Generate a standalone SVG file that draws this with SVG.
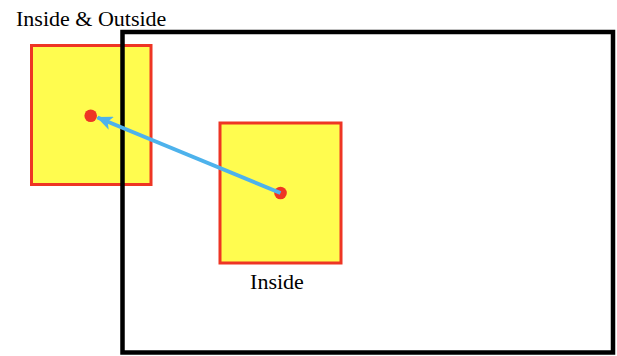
<svg xmlns="http://www.w3.org/2000/svg" width="617" height="356" viewBox="0 0 617 356">
<style>
.box{fill:#FFFC4F;stroke:#EE3524;stroke-width:3}
.dot{fill:#EE3524}
.lbl{font-family:"Liberation Serif",serif;font-size:22px;fill:#000}
</style>
<defs>
<marker id="ah" markerUnits="userSpaceOnUse" markerWidth="16" markerHeight="14" refX="15" refY="7" orient="auto">
<path d="M0,0 L16,7 L0,14 L4,7 Z" fill="#4DB2EC"/>
</marker>
</defs>
<rect width="617" height="356" fill="#fff"/>
<g id="left-box"><rect class="box" x="31.5" y="45.5" width="119.5" height="139"/><text class="lbl" x="16" y="26">Inside &amp; Outside</text></g>
<g id="outer"><rect x="122.5" y="32" width="490.5" height="320.5" fill="none" stroke="#000" stroke-width="4.5"/></g>
<g id="left-dot"><circle class="dot" cx="90.7" cy="115.7" r="6.3"/></g>
<g id="right-box"><rect class="box" x="220" y="123" width="121" height="140"/><circle class="dot" cx="280.5" cy="193" r="6.3"/><text class="lbl" x="277" y="289" text-anchor="middle">Inside</text></g>
<g id="connectors"><line x1="280.5" y1="193" x2="97.5" y2="117.5" stroke="#4DB2EC" stroke-width="4" marker-end="url(#ah)"/></g>
</svg>
